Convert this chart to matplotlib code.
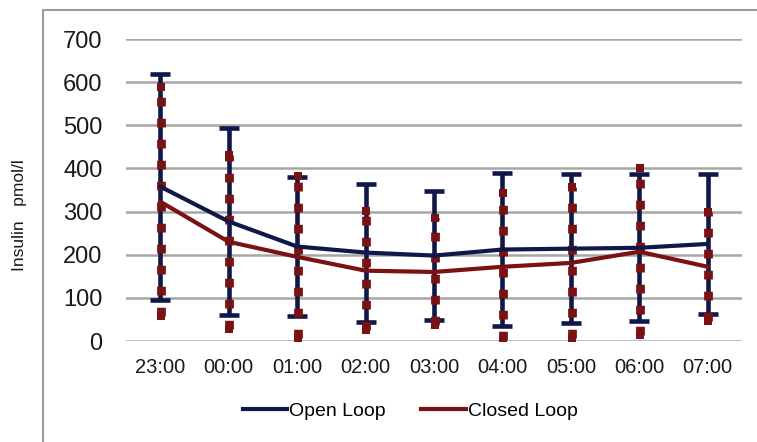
import numpy as np
import matplotlib.pyplot as plt
from matplotlib.lines import Line2D

# data
times = ["23:00", "00:00", "01:00", "02:00", "03:00", "04:00", "05:00", "06:00", "07:00"]
open_mean = [358, 277, 219, 205, 198, 212, 214, 216, 225]
open_sd = [262, 216, 161, 160, 150, 178, 172, 170, 163]
closed_mean = [323, 230, 195, 163, 160, 172, 181, 207, 172]
closed_sd = [265, 202, 188, 138, 124, 170, 175, 193, 126]

navy = '#0f1849'
red = '#7a1112'
grid = '#a6a6a6'

plt.rcParams['font.family'] = ['Liberation Sans', 'DejaVu Sans']

fig = plt.figure(figsize=(7.57, 4.42), dpi=100, facecolor='white')
ax = fig.add_axes([126 / 757, 1 - 341 / 442, 616 / 757, 302 / 442])

x = np.arange(len(times))
om = np.array(open_mean)
cm = np.array(closed_mean)
csd = np.array(closed_sd)

# open loop error bars (solid with caps)
ax.errorbar(x, om, yerr=open_sd, fmt='none', ecolor=navy, elinewidth=3.3,
            capsize=7, capthick=3.3, zorder=3)
# closed loop error bars (square-dotted) with a square at each end
ax.vlines(x + 0.01, cm - csd, cm + csd,
          colors=red, linewidth=6.3, linestyles=(0, (1.0, 1.4)), zorder=4)
ax.plot(np.r_[x, x] + 0.01, np.r_[cm - csd, cm + csd], ls='none', marker='s',
        ms=6.3, mfc=red, mec=red, mew=0, zorder=4)

ax.plot(x, om, color=navy, lw=3, zorder=5, label='Open Loop')
ax.plot(x, cm, color=red, lw=3, zorder=5, label='Closed Loop')

ax.set_xlim(-0.5, len(times) - 0.5)
ax.set_ylim(0, 700)
ax.set_yticks(range(0, 701, 100))
ax.set_xticks(x)
ax.set_xticklabels(times, fontsize=14.5, color='#1a1a1a')
ax.tick_params(axis='y', labelsize=17, length=0, pad=17, colors='#1a1a1a')
ax.tick_params(axis='x', length=0, pad=12)
ax.grid(axis='y', color=grid, lw=1.8, zorder=0)
ax.set_axisbelow(True)
for s in ax.spines.values():
    s.set_visible(False)

fig.text(20 / 757, 1 - 215 / 442, "Insulin   pmol/l", rotation=90,
         ha='center', va='center', fontsize=12.5, color='#1a1a1a')

fig.legend(loc='center', bbox_to_anchor=(410 / 757, 1 - 411 / 442), ncol=2,
           frameon=False, fontsize=14, handlelength=2.3, handletextpad=0.1,
           columnspacing=1.8, borderaxespad=0)

# chart-area border (cropped at right and bottom)
fig.add_artist(Line2D([43 / 757, 43 / 757, 1.0], [0.0, 1 - 10 / 442, 1 - 10 / 442],
                      transform=fig.transFigure, color='#9a9a9a', lw=1.5))

fig.savefig('out.png', dpi=100)
